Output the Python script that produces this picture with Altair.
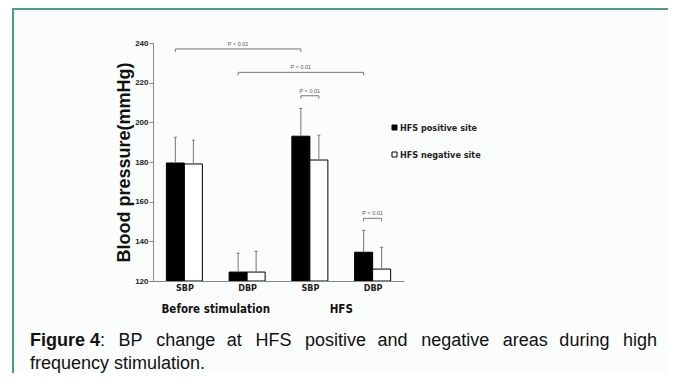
import altair as alt
import pandas as pd

# ---------------- data ----------------
groups = ["Before stimulation", "HFS"]
measures = ["SBP", "DBP", "SBP", "DBP"]
sites = ["HFS positive site", "HFS negative site"]
positive_mean = [179.5, 124.5, 193.0, 134.5]
positive_top = [192.5, 134.0, 207.0, 145.5]
negative_mean = [179.0, 124.5, 181.0, 126.0]
negative_top = [191.0, 135.0, 193.5, 137.0]
# significance brackets: (slot, site) -> (slot, site), height
sig_from = [(0, 0), (1, 0), (2, 0), (3, 0)]
sig_to = [(2, 0), (3, 0), (2, 1), (3, 1)]
sig_level = [237.0, 225.2, 213.4, 151.6]
sig_text = "P < 0.01"
y_ticks = [120, 140, 160, 180, 200, 220, 240]
y_min, y_max = 120, 240
caption_bold = "Figure 4"
caption_line1 = ": BP change at HFS positive and negative areas during high"
caption_line2 = "frequency stimulation."

# ---------------- layout helpers ----------------
BAR = 0.287          # bar width as fraction of slot
NARROW = "DejaVu Sans Condensed, Liberation Sans"
SANS = "Liberation Sans, Arial"


def center(slot, site):
    return slot + 0.5 + (site - 0.5) * BAR


means = [positive_mean, negative_mean]
tops = [positive_top, negative_top]
rows = []
for s, site in enumerate(sites):
    for i, m in enumerate(measures):
        c = center(i, s)
        rows.append(dict(site=site, measure=m, c=c, x=c - BAR / 2, x2=c + BAR / 2,
                         base=y_min, value=means[s][i], top=tops[s][i],
                         cx=c - 0.024, cx2=c + 0.024))
bars = pd.DataFrame(rows)

seg = []
txt = []
tick = 1.5
for (a, b), lvl in zip(zip(sig_from, sig_to), sig_level):
    c1, c2 = center(*a), center(*b)
    seg.append(dict(x=c1, x2=c2, y=lvl, y2=lvl))
    seg.append(dict(x=c1, x2=c1, y=lvl, y2=lvl - tick))
    seg.append(dict(x=c2, x2=c2, y=lvl, y2=lvl - tick))
    txt.append(dict(x=(c1 + c2) / 2, y=lvl, t=sig_text))
segs = pd.DataFrame(seg)
sigs = pd.DataFrame(txt)

grp = pd.DataFrame(dict(x=[1.0, 3.0], g=groups))
one = pd.DataFrame({"k": [0]})

xs = alt.Scale(domain=[0, 4], nice=False, zero=False)
ys = alt.Scale(domain=[y_min, y_max], nice=False, zero=False)

label_arr = "[" + ",".join("'%s'" % m for m in measures) + "]"

x_axis = alt.Axis(
    values=[0.5, 1.5, 2.5, 3.5], labelExpr=label_arr + "[floor(datum.value)]",
    ticks=False, title=None, grid=False, domainColor="#888", zindex=1,
    labelFont=NARROW, labelFontSize=9, labelFontWeight="bold",
    labelColor="#222", labelPadding=2)
y_axis = alt.Axis(
    values=y_ticks, title="Blood pressure(mmHg)", titleFont=SANS,
    titleFontSize=18, titleFontWeight="bold", titleColor="#111", zindex=1,
    titlePadding=1, labelFont=SANS, labelFontSize=8,
    labelFontWeight="bold", labelColor="#222", tickSize=4,
    tickColor="#888", domainColor="#888", labelPadding=1, grid=False)

frame = alt.Chart(one).mark_rect(fill="#fbfcfc", stroke="#4d9a95", strokeWidth=2).encode(
    x=alt.value(-140), x2=alt.value(518), y=alt.value(-34), y2=alt.value(420))

bar_layer = alt.Chart(bars).mark_bar(stroke="black", strokeWidth=1).encode(
    x=alt.X("x:Q", scale=xs, axis=x_axis),
    x2="x2:Q",
    y=alt.Y("value:Q", scale=ys, axis=y_axis),
    y2="base:Q",
    fill=alt.Fill("site:N", scale=alt.Scale(domain=sites, range=["#000000", "#ffffff"]),
                  legend=alt.Legend(orient="none", legendX=237, legendY=80,
                                    title=None, symbolType="square", symbolSize=25,
                                    symbolStrokeColor="black", symbolStrokeWidth=1,
                                    labelFont=NARROW, labelFontSize=9,
                                    labelFontWeight="bold", labelColor="#222",
                                    labelOffset=1, rowPadding=17)),
)

err = alt.Chart(bars).mark_rule(color="#777", strokeWidth=1).encode(
    x=alt.X("c:Q", scale=xs, axis=x_axis),
    y=alt.Y("value:Q", scale=ys, axis=y_axis), y2="top:Q")
cap = alt.Chart(bars).mark_rule(color="#777", strokeWidth=1).encode(
    x=alt.X("cx:Q", scale=xs, axis=x_axis), x2="cx2:Q",
    y=alt.Y("top:Q", scale=ys, axis=y_axis))

brk = alt.Chart(segs).mark_rule(color="#777", strokeWidth=1).encode(
    x=alt.X("x:Q", scale=xs, axis=x_axis), x2="x2:Q",
    y=alt.Y("y:Q", scale=ys, axis=y_axis), y2="y2:Q")
brk_txt = alt.Chart(sigs).mark_text(fontSize=5.5, font=SANS, color="#555",
                                    baseline="middle", dy=-5).encode(
    x=alt.X("x:Q", scale=xs, axis=x_axis),
    y=alt.Y("y:Q", scale=ys, axis=y_axis), text="t:N")

grp_txt = alt.Chart(grp).mark_text(font=NARROW, fontSize=11.5, fontWeight="bold",
                                   color="#111", baseline="middle").encode(
    x=alt.X("x:Q", scale=xs, axis=x_axis), y=alt.value(267), text="g:N")

gap = "\u00a0\u00a0"
words = caption_line1.split(" ")
line1 = ""
for k, w in enumerate(words):
    if k > 0:
        line1 += gap + ("\u200a" if k % 3 == 0 else "\u2009")
    line1 += w

cap1 = alt.Chart(one).mark_text(text=caption_bold, font=SANS, fontSize=18,
                                fontWeight="bold", color="#111", align="left",
                                baseline="alphabetic").encode(
    x=alt.value(-123), y=alt.value(303))
cap2 = alt.Chart(one).mark_text(text=line1, font=SANS, fontSize=18, color="#111",
                                align="left", baseline="alphabetic").encode(
    x=alt.value(-53), y=alt.value(303))
cap3 = alt.Chart(one).mark_text(text=caption_line2, font=SANS, fontSize=18,
                                color="#111", align="left",
                                baseline="alphabetic").encode(
    x=alt.value(-123), y=alt.value(326))

chart = alt.layer(frame, bar_layer, err, cap, brk, brk_txt, grp_txt, cap1, cap2, cap3).properties(
    width=251, height=238, autosize="none",
    padding={"left": 145, "top": 35, "right": 264, "bottom": 92},
    background="white",
).configure_view(stroke=None)

chart.save("out.html", embed_options={"renderer": "svg", "actions": False})
